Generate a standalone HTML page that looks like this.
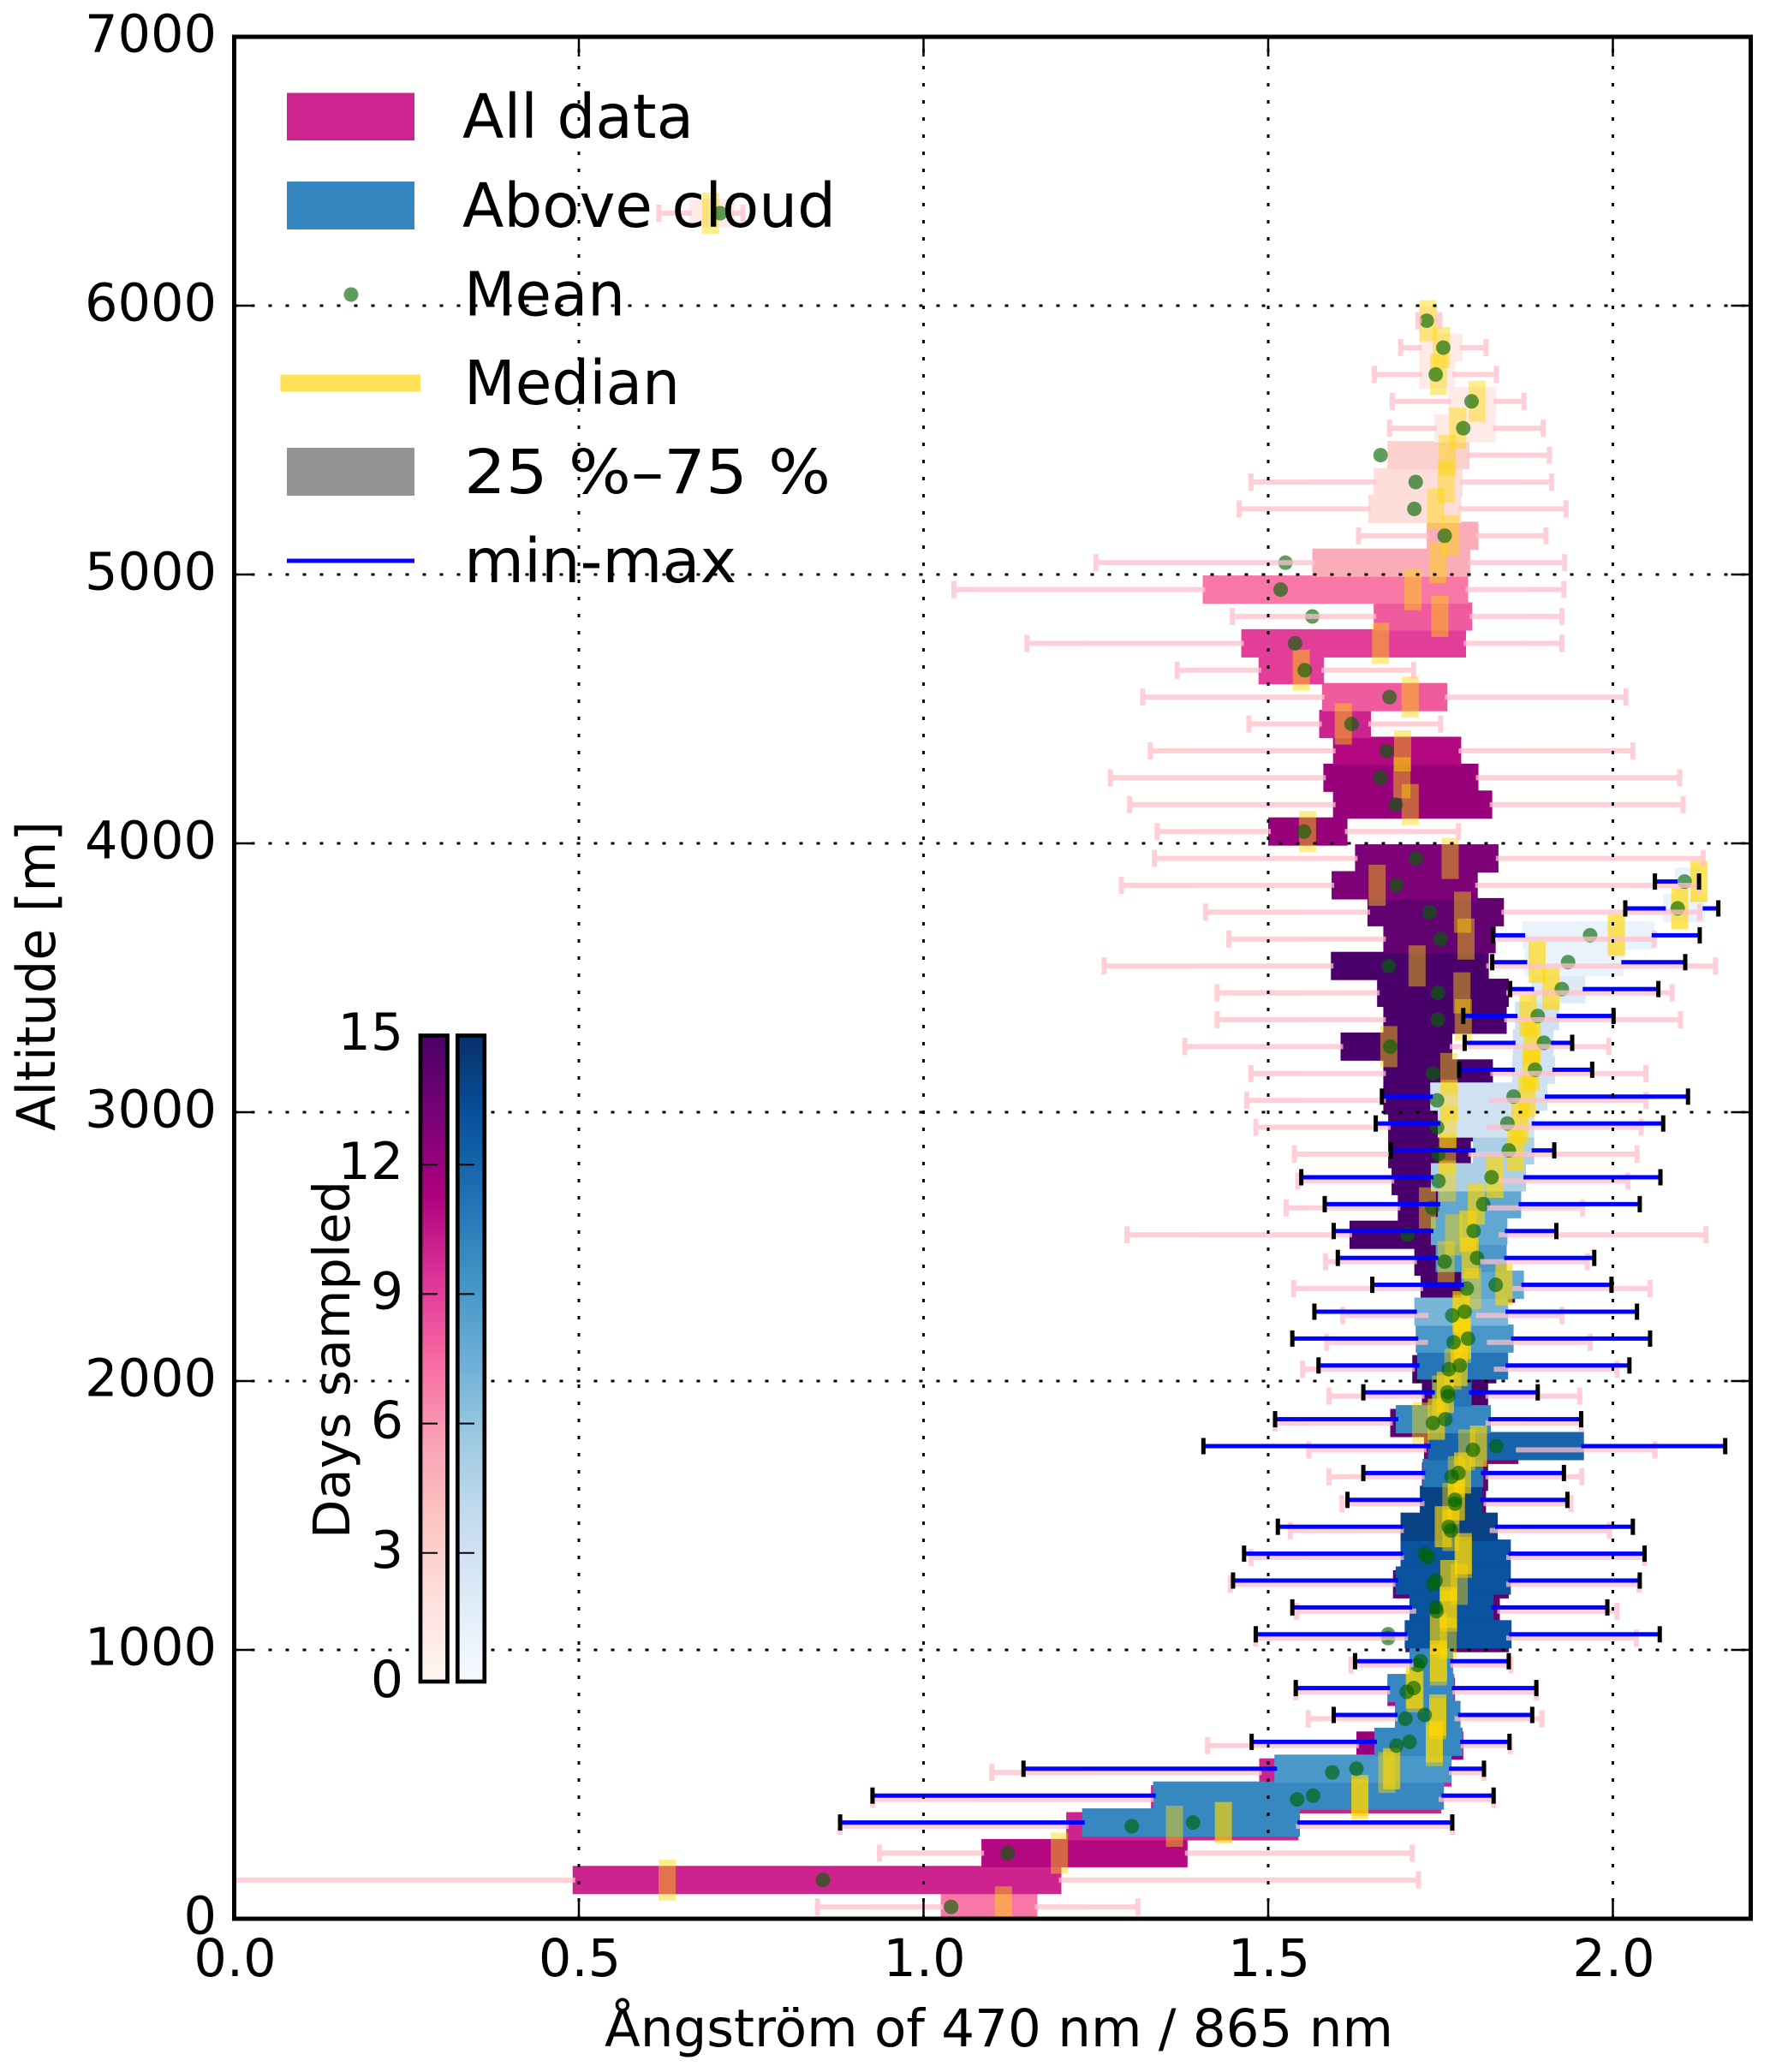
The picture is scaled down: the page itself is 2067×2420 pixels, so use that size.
<!DOCTYPE html>
<html lang="en">
<head>
<meta charset="utf-8">
<title>Ångström exponent by altitude</title>
<style>
html,body{margin:0;padding:0;background:#fff;}
svg{display:block;font-family:"DejaVu Sans","Liberation Sans",sans-serif;}
</style>
</head>
<body>
<svg id="chart" xmlns="http://www.w3.org/2000/svg" width="2067" height="2420" viewBox="0 0 2067 2420">
<defs>
<clipPath id="axes-clip"><rect x="273.5" y="43" width="1771" height="2198"/></clipPath>
<linearGradient id="rdpu-gradient" x1="0" y1="1" x2="0" y2="0"></linearGradient>
<linearGradient id="blues-gradient" x1="0" y1="1" x2="0" y2="0"></linearGradient>
</defs>
<rect x="0" y="0" width="2067" height="2420" fill="#ffffff"/>
<g id="marks" clip-path="url(#axes-clip)"></g>
<g id="grid"></g>
<g id="ticks"></g>
<rect x="273.5" y="43" width="1771" height="2198" fill="none" stroke="#000" stroke-width="5"/>
<text transform="translate(64,1140) rotate(-90)" text-anchor="middle" font-size="62" textLength="362" lengthAdjust="spacingAndGlyphs">Altitude [m]</text>
<text x="706" y="2390" font-size="61" textLength="921" lengthAdjust="spacingAndGlyphs">Ångström of 470 nm / 865 nm</text>
<g>
<rect x="335" y="108.5" width="149" height="55.5" fill="#cf2490"/>
<text x="540" y="161" font-size="71" textLength="270" lengthAdjust="spacingAndGlyphs">All data</text>
<rect x="335" y="212" width="149" height="56" fill="#3585c0"/>
<text x="540" y="265" font-size="71" textLength="436" lengthAdjust="spacingAndGlyphs">Above cloud</text>
<circle cx="410" cy="344" r="8.5" fill="#006400" fill-opacity="0.63"/>
<text x="542" y="368.5" font-size="71" textLength="188" lengthAdjust="spacingAndGlyphs">Mean</text>
<rect x="327.5" y="437.5" width="163.5" height="20" fill="#ffe25a"/>
<text x="542" y="472" font-size="71" textLength="252" lengthAdjust="spacingAndGlyphs">Median</text>
<rect x="335" y="523" width="149" height="56" fill="#949494"/>
<text x="542" y="576" font-size="71" textLength="428" lengthAdjust="spacingAndGlyphs">25 %–75 %</text>
<rect x="335" y="652.5" width="149" height="5" fill="#0000ff"/>
<text x="542" y="680" font-size="71" textLength="318" lengthAdjust="spacingAndGlyphs">min-max</text>
</g>
<g id="colorbars">
<rect x="482" y="1200" width="90" height="775" fill="#ffffff"/>
<rect x="491" y="1209.5" width="31.5" height="754.5" fill="url(#rdpu-gradient)" stroke="#000" stroke-width="4.7"/>
<rect x="534.3" y="1209.5" width="31.5" height="754.5" fill="url(#blues-gradient)" stroke="#000" stroke-width="4.7"/>
<text transform="translate(408,1588) rotate(-90)" text-anchor="middle" font-size="59">Days sampled</text>
</g>
</svg>
<script>
// ---------- All-data series ----------
const allAltitudes = [44,144,244,344,444,544,644,744,844,944,1044,1144,1244,1344,1444,1544,1644,1744,1844,1944,2044,2144,2244,2344,2444,2544,2644,2744,2844,2944,3044,3144,3244,3344,3444,3544,3644,3744,3844,3944,4044,4144,4244,4344,4444,4544,4644,4744,4844,4944,5044,5144,5244,5344,5444,5544,5644,5744,5844,5944,6344];
const allMin = [0.846,-0.05,0.936,0.879,0.926,1.099,1.412,1.558,1.540,1.620,1.482,1.541,1.445,1.475,1.532,1.607,1.588,1.559,1.510,1.588,1.550,1.585,1.608,1.537,1.583,1.295,1.526,1.543,1.538,1.482,1.469,1.475,1.379,1.426,1.426,1.262,1.443,1.409,1.287,1.335,1.339,1.299,1.271,1.329,1.472,1.318,1.368,1.150,1.448,1.044,1.250,1.631,1.458,1.475,1.673,1.676,1.680,1.654,1.692,1.717,0.616];
const allP25 = [1.025,0.491,1.084,1.207,1.330,1.487,1.628,1.684,1.673,1.707,1.699,1.711,1.681,1.693,1.693,1.723,1.723,1.726,1.677,1.723,1.709,1.728,1.729,1.721,1.712,1.618,1.688,1.679,1.674,1.674,1.667,1.667,1.605,1.667,1.658,1.591,1.667,1.644,1.592,1.626,1.500,1.594,1.580,1.594,1.574,1.578,1.486,1.461,1.653,1.405,1.564,1.730,1.645,1.653,1.673,1.741,1.761,1.719,1.719,1.719,0.660];
const allP75 = [1.165,1.200,1.383,1.544,1.751,1.766,1.783,1.774,1.771,1.768,1.849,1.836,1.849,1.849,1.825,1.816,1.819,1.863,1.819,1.819,1.831,1.821,1.805,1.858,1.811,1.838,1.821,1.838,1.794,1.821,1.824,1.826,1.767,1.846,1.849,1.820,1.830,1.842,1.804,1.834,1.615,1.825,1.805,1.780,1.649,1.760,1.581,1.787,1.796,1.790,1.793,1.805,1.780,1.782,1.792,1.830,1.831,1.771,1.782,1.746,0.726];
const allMax = [1.311,1.718,1.709,1.767,1.827,1.813,1.851,1.897,1.889,1.852,2.034,2.006,2.038,2.046,1.995,1.939,1.955,2.061,1.954,1.952,2.006,1.967,1.926,2.054,1.963,2.135,1.956,2.022,2.035,2.041,2.048,2.048,1.994,2.098,2.086,2.149,2.060,2.126,2.125,2.131,1.776,2.102,2.097,2.029,1.750,2.019,1.711,1.926,1.926,1.929,1.930,1.903,1.932,1.911,1.908,1.899,1.871,1.831,1.816,1.749,0.738];
const allMean = [1.040,0.854,1.122,1.302,1.542,1.593,1.686,1.699,1.701,1.717,1.674,1.744,1.739,1.732,1.765,1.771,1.766,1.797,1.739,1.761,1.762,1.769,1.767,1.788,1.756,1.702,1.738,1.747,1.747,1.745,1.745,1.739,1.677,1.746,1.746,1.675,1.750,1.734,1.686,1.714,1.552,1.685,1.663,1.672,1.621,1.676,1.553,1.539,1.564,1.518,1.525,1.756,1.712,1.714,1.663,1.783,1.795,1.743,1.754,1.730,0.705];
const allMedian = [1.116,0.628,1.197,1.364,1.633,1.672,1.741,1.746,1.713,1.747,1.761,1.762,1.777,1.783,1.765,1.765,1.773,1.788,1.721,1.750,1.768,1.782,1.780,1.797,1.758,1.769,1.731,1.760,1.760,1.761,1.763,1.762,1.675,1.783,1.781,1.716,1.787,1.782,1.658,1.764,1.557,1.706,1.694,1.695,1.609,1.706,1.548,1.663,1.749,1.710,1.746,1.765,1.743,1.758,1.760,1.775,1.803,1.747,1.751,1.732,0.691];
const allDays = [7,10,11,10,10,10,12,12,11,13,14,14,14,14,14,14,14,13,14,15,15,15,15,15,15,15,15,15,15,15,15,15,15,15,15,15,14,14,13,13,12,12,12,11,10,8,9,9,8,7,5,5,2,2,3,1,1,1,1,1,1];

// ---------- Above-cloud series ----------
const cloudAltitudes = [358,458,558,658,758,858,958,1058,1158,1258,1358,1458,1558,1658,1758,1858,1958,2058,2158,2258,2358,2458,2558,2658,2758,2858,2958,3058,3158,3258,3358,3458,3558,3658,3758,3858];
const cloudMin = [0.879,0.926,1.145,1.476,1.595,1.540,1.626,1.482,1.535,1.449,1.465,1.514,1.615,1.638,1.406,1.510,1.638,1.573,1.535,1.567,1.651,1.601,1.595,1.582,1.548,1.678,1.656,1.665,1.777,1.785,1.783,1.851,1.825,1.826,2.018,2.061];
const cloudP25 = [1.230,1.333,1.509,1.654,1.684,1.673,1.705,1.698,1.705,1.685,1.692,1.692,1.720,1.724,1.732,1.685,1.738,1.716,1.714,1.712,1.780,1.743,1.736,1.746,1.736,1.797,1.746,1.735,1.854,1.855,1.858,1.882,1.872,1.869,2.073,2.090];
const cloudP75 = [1.546,1.755,1.766,1.782,1.779,1.770,1.768,1.853,1.827,1.852,1.852,1.833,1.811,1.812,1.958,1.823,1.795,1.848,1.856,1.848,1.871,1.846,1.847,1.867,1.874,1.886,1.886,1.905,1.916,1.914,1.922,1.960,2.016,2.060,2.134,2.128];
const cloudMax = [1.767,1.827,1.813,1.850,1.883,1.889,1.849,2.068,1.992,2.039,2.046,2.029,1.934,1.929,2.163,1.954,1.891,2.024,2.054,2.035,1.998,1.973,1.918,2.039,2.069,1.915,2.073,2.109,1.970,1.941,2.001,2.066,2.105,2.126,2.153,2.125];
const cloudMean = [1.391,1.565,1.628,1.705,1.727,1.711,1.721,1.674,1.743,1.743,1.727,1.762,1.771,1.776,1.831,1.757,1.760,1.778,1.790,1.785,1.830,1.803,1.798,1.812,1.824,1.849,1.847,1.856,1.887,1.900,1.891,1.926,1.935,1.967,2.094,2.104];
const cloudMedian = [1.435,1.633,1.679,1.741,1.746,1.712,1.747,1.747,1.761,1.762,1.783,1.754,1.773,1.782,1.805,1.744,1.757,1.777,1.782,1.780,1.842,1.793,1.790,1.802,1.829,1.859,1.865,1.875,1.881,1.883,1.877,1.910,1.890,2.005,2.097,2.125];
const cloudDays = [10,10,9,10,10,10,10,13,13,13,13,14,14,11,12,10,11,11,9,7,8,9,8,8,5,5,3,3,3,3,3,2,1,1,1,1];

// ---------- Axis tick labels ----------
const xTickValues = [0.0,0.5,1.0,1.5,2.0];
const xTickLabels = ["0.0","0.5","1.0","1.5","2.0"];
const yTickValues = [0,1000,2000,3000,4000,5000,6000,7000];
const yTickLabels = ["0","1000","2000","3000","4000","5000","6000","7000"];
const dayTickValues = [0,3,6,9,12,15];
const dayTickLabels = ["0","3","6","9","12","15"];

// ---------- Colormap stops (matplotlib RdPu and Blues) ----------
const rdpuStops = ["#fff7f3","#fde0dd","#fcc5c0","#fa9fb5","#f768a1","#dd3497","#ae017e","#7a0177","#49006a"];
const bluesStops = ["#f7fbff","#deebf7","#c6dbef","#9ecae1","#6baed6","#4292c6","#2171b5","#08519c","#08306b"];

const SVGNS = "http://www.w3.org/2000/svg";
const marks = document.getElementById("marks");
const gridGroup = document.getElementById("grid");
const tickGroup = document.getElementById("ticks");
const colorbarGroup = document.getElementById("colorbars");

function xScale(v){ return 273.5 + 805 * v; }
function yScale(a){ return 2241 - 0.314 * a; }
function dayScale(d){ return 1965 - (d / 15) * 756; }

function hexToRgb(h){
  return [parseInt(h.slice(1,3),16),parseInt(h.slice(3,5),16),parseInt(h.slice(5,7),16)];
}
function colormap(stops,d){
  const t = Math.max(0,Math.min(1,d / 15)) * (stops.length - 1);
  const i = Math.min(stops.length - 2,Math.floor(t));
  const f = t - i;
  const a = hexToRgb(stops[i]);
  const b = hexToRgb(stops[i + 1]);
  return "rgb(" + a.map(function(c,k){ return Math.round(c + (b[k] - c) * f); }).join(",") + ")";
}
function shape(parent,tag,props){
  const el = document.createElementNS(SVGNS,tag);
  Object.keys(props).forEach(function(k){ el.setAttribute(k,props[k]); });
  parent.appendChild(el);
  return el;
}

// Gradients for the colorbars
[["rdpu-gradient",rdpuStops],["blues-gradient",bluesStops]].forEach(function(pair){
  const grad = document.getElementById(pair[0]);
  pair[1].forEach(function(c,i){
    shape(grad,"stop",{offset:(i / (pair[1].length - 1)),"stop-color":c});
  });
});

// Quartile bars
function drawBars(alts,p25,p75,days,stops,name){
  alts.forEach(function(a,i){
    const h = 33;
    const b = shape(marks,"rect",{x:xScale(p25[i]),y:yScale(a) - h / 2,width:xScale(p75[i]) - xScale(p25[i]),height:h,fill:colormap(stops,days[i])});
    
    
  });
}
// Median marks
function drawMedians(alts,med,opacity,name){
  alts.forEach(function(a,i){
    const m = shape(marks,"rect",{x:xScale(med[i]) - 10,y:yScale(a) - 24,width:20,height:48,fill:"#ffd700","fill-opacity":opacity});
    
    
  });
}
// Mean dots
function drawMeans(alts,mean,name){
  alts.forEach(function(a,i){
    const c = shape(marks,"circle",{cx:xScale(mean[i]),cy:yScale(a),r:8.5,fill:"#006400","fill-opacity":0.63});
    
    
  });
}
// Min-max whiskers
function drawWhiskers(alts,mn,p25,p75,mx,lineColor,capColor,lineW,capW,capH,opacity,name){
  alts.forEach(function(a,i){
    const y = yScale(a);
    const g = shape(marks,"g",{opacity:opacity});
    
    
    if (xScale(p25[i]) - xScale(mn[i]) > 1) {
      shape(g,"rect",{x:xScale(mn[i]),y:y - lineW / 2,width:xScale(p25[i]) - xScale(mn[i]) + 3,height:lineW,fill:lineColor});
      shape(g,"rect",{x:xScale(mn[i]) - capW / 2,y:y - capH / 2,width:capW,height:capH,fill:capColor});
    }
    const w = Math.max(0,xScale(mx[i]) - xScale(p75[i]));
    if (w > 0) {
      shape(g,"rect",{x:xScale(p75[i]) - 3,y:y - lineW / 2,width:w + 3,height:lineW,fill:lineColor});
    }
    shape(g,"rect",{x:xScale(mx[i]) - capW / 2,y:y - capH / 2,width:capW,height:capH,fill:capColor});
  });
}

drawBars(allAltitudes,allP25,allP75,allDays,rdpuStops,"all-data-bar");
drawBars(cloudAltitudes,cloudP25,cloudP75,cloudDays,bluesStops,"above-cloud-bar");
drawMedians(allAltitudes,allMedian,0.45,"all-data-median");
drawMedians(cloudAltitudes,cloudMedian,0.65,"above-cloud-median");
drawMeans(allAltitudes,allMean,"all-data-mean");
drawMeans(cloudAltitudes,cloudMean,"above-cloud-mean");
drawWhiskers(allAltitudes,allMin,allP25,allP75,allMax,"#ffc0cb","#ffc0cb",6,6,20,0.75,"all-data-min-max");
drawWhiskers(cloudAltitudes,cloudMin,cloudP25,cloudP75,cloudMax,"#0000ff","#000000",5,5,19,1,"above-cloud-min-max");

// Grid and ticks
xTickValues.forEach(function(v,i){
  const x = xScale(v);
  const gl = shape(gridGroup,"line",{x1:x,x2:x,y1:2241,y2:43,stroke:"#000","stroke-width":3,"stroke-dasharray":"4 16"});
  
  
  const t1 = shape(tickGroup,"line",{x1:x,x2:x,y1:2241,y2:2218,stroke:"#000","stroke-width":2.5});
  
  
  const t2 = shape(tickGroup,"line",{x1:x,x2:x,y1:43,y2:66,stroke:"#000","stroke-width":2.5});
  
  
  const lb = shape(tickGroup,"text",{x:x + 1,y:2308,"text-anchor":"middle","font-size":60.5});
  lb.textContent = xTickLabels[i];
  
  
});
yTickValues.forEach(function(v,i){
  const y = yScale(v);
  const gl = shape(gridGroup,"line",{x1:273.5,x2:2044.5,y1:y,y2:y,stroke:"#000","stroke-width":3,"stroke-dasharray":"4 16"});
  
  
  const t1 = shape(tickGroup,"line",{x1:273.5,x2:296.5,y1:y,y2:y,stroke:"#000","stroke-width":2.5});
  
  
  const t2 = shape(tickGroup,"line",{x1:2044.5,x2:2021.5,y1:y,y2:y,stroke:"#000","stroke-width":2.5});
  
  
  const lb = shape(tickGroup,"text",{x:253,y:y + 17.5,"text-anchor":"end","font-size":60.5});
  lb.textContent = yTickLabels[i];
  
  
});

// Colorbar ticks and labels
dayTickValues.forEach(function(d,i){
  const y = dayScale(d);
  if (d > 0 && d < 15) {
    const t1 = shape(colorbarGroup,"line",{x1:493,x2:511,y1:y,y2:y,stroke:"#000","stroke-width":2});
    
    
    const t2 = shape(colorbarGroup,"line",{x1:536.5,x2:554,y1:y,y2:y,stroke:"#000","stroke-width":2});
    
    
  }
  const lb = shape(colorbarGroup,"text",{x:471,y:y + 17,"text-anchor":"end","font-size":60});
  lb.textContent = dayTickLabels[i];
  
  
});
</script>
</body>
</html>
